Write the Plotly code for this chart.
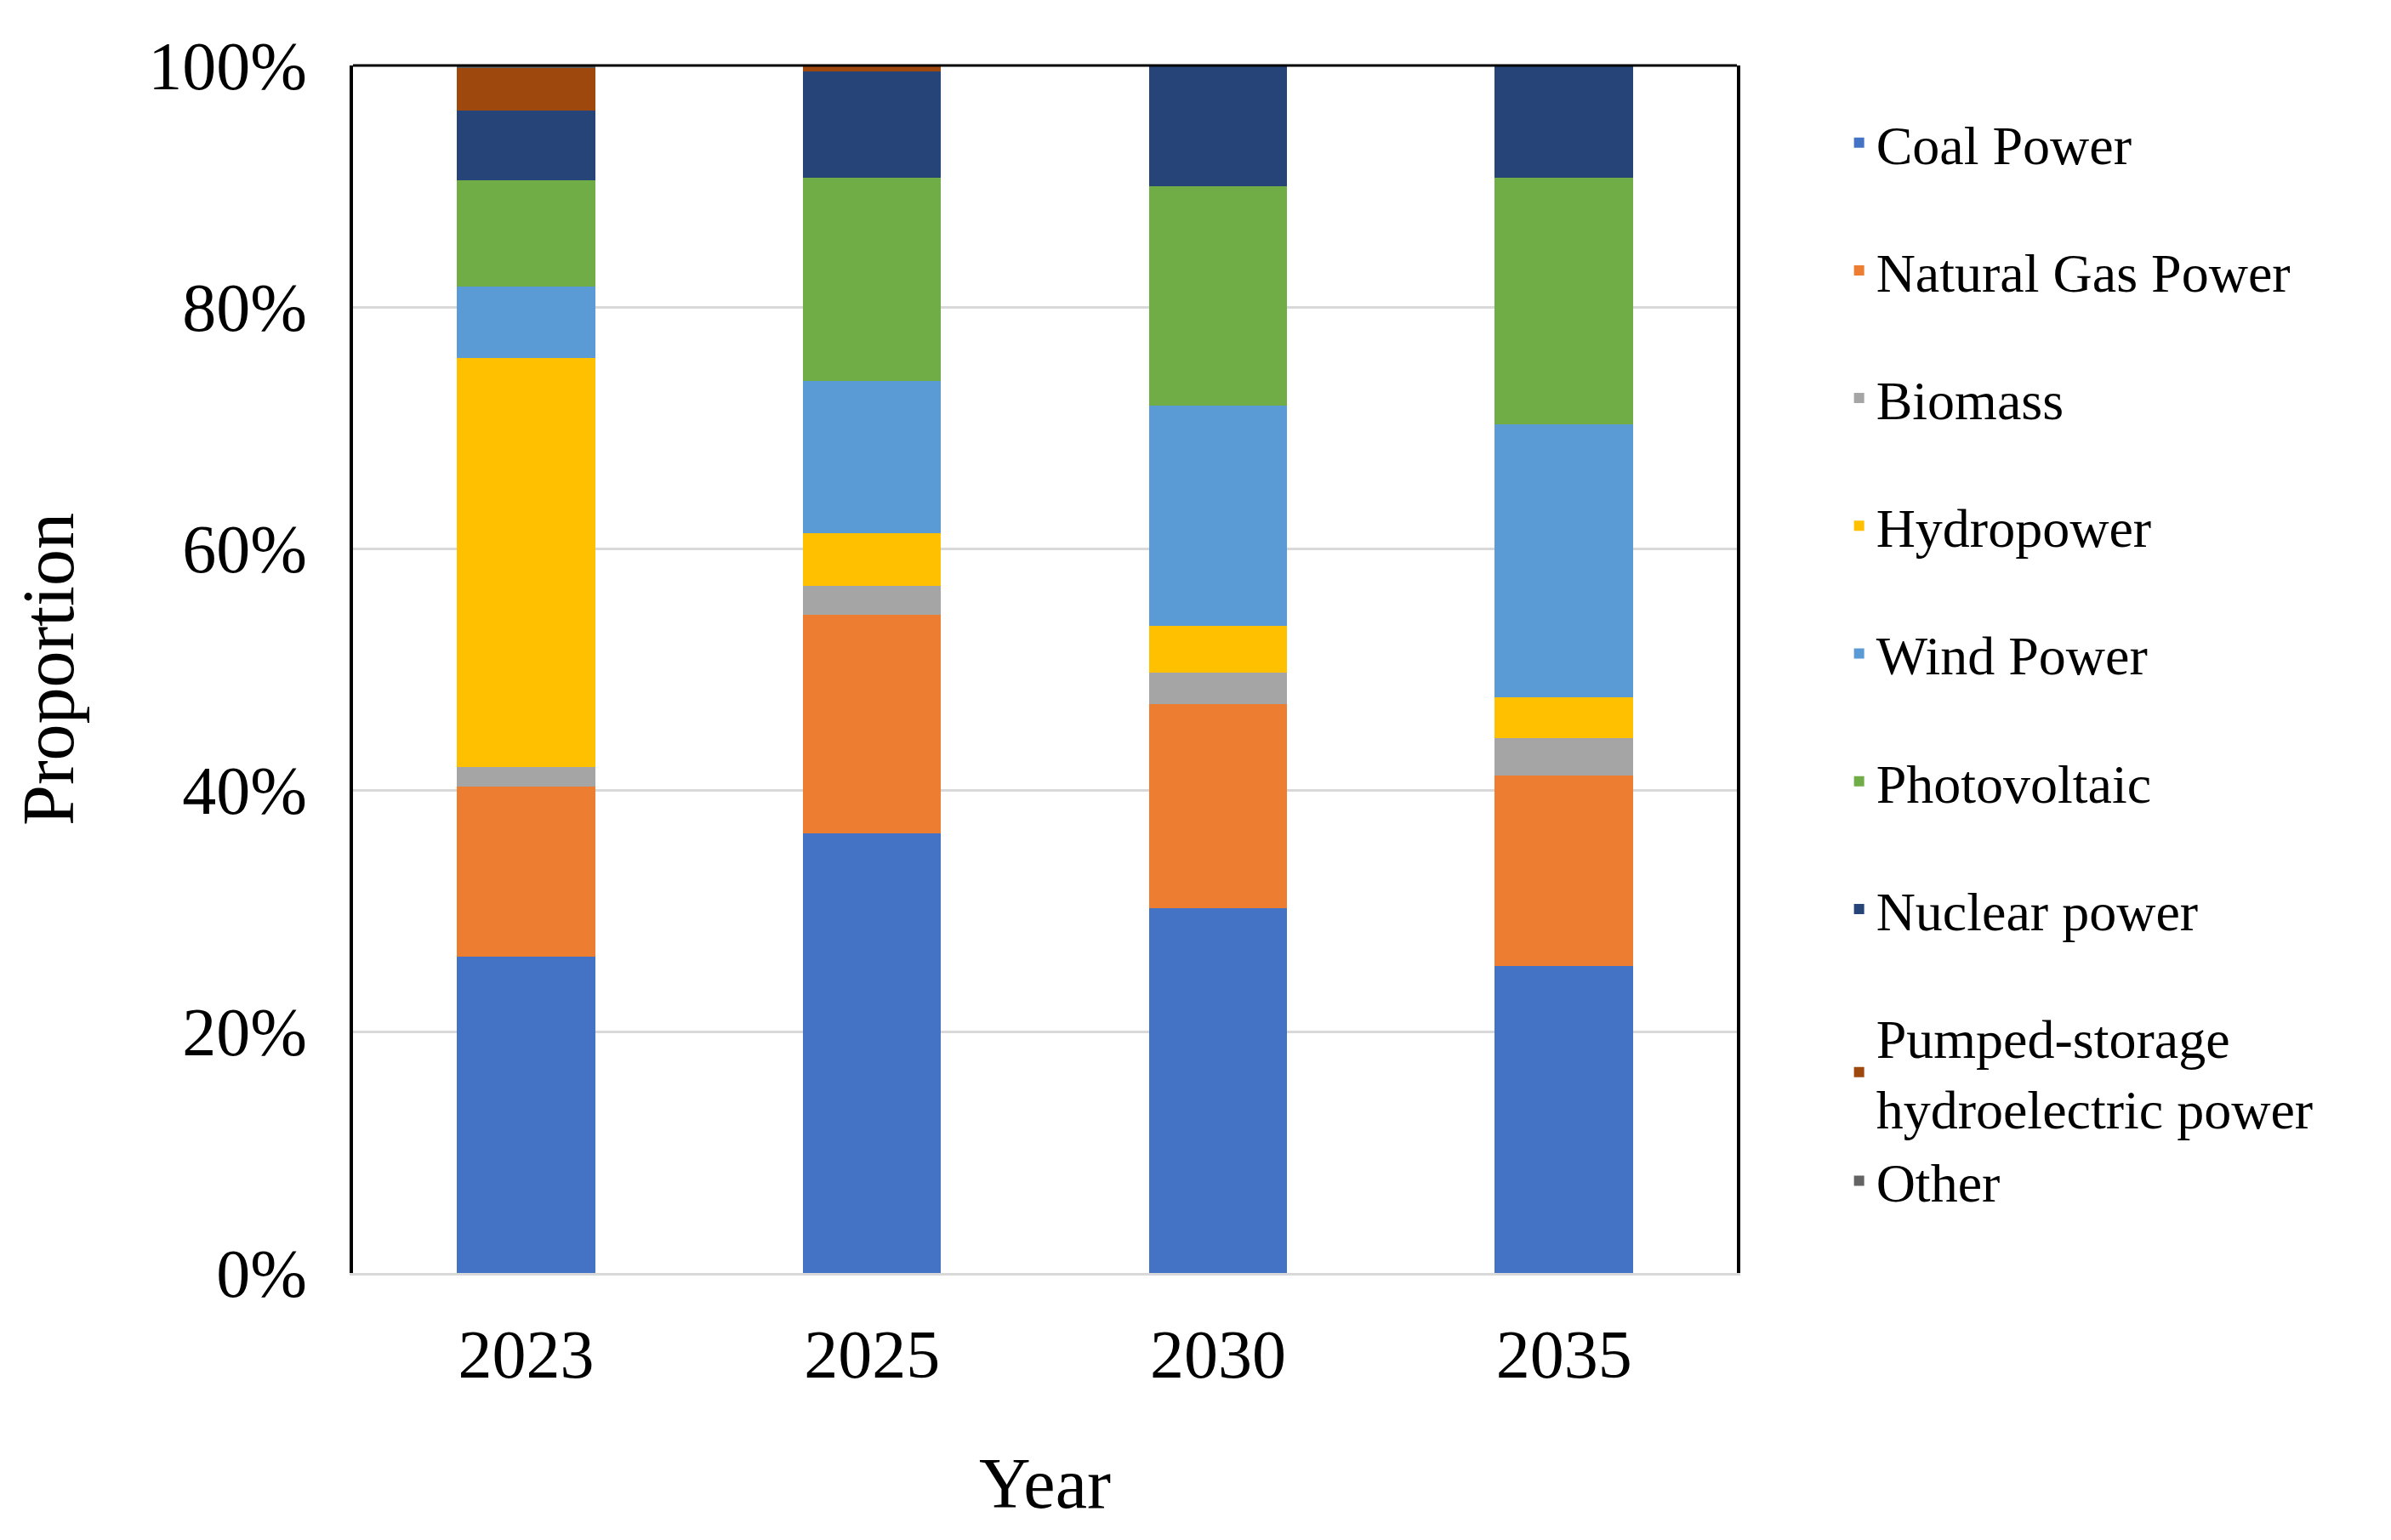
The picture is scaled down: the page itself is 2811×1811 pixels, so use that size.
import plotly.graph_objects as go

years = ["2023", "2025", "2030", "2035"]

coal = [26.2, 36.4, 30.2, 25.4]
natural_gas = [14.1, 18.1, 16.9, 15.8]
biomass = [1.6, 2.4, 2.6, 3.1]
hydropower = [33.9, 4.4, 3.9, 3.4]
wind = [5.9, 12.6, 18.2, 22.6]
photovoltaic = [8.8, 16.8, 18.2, 20.4]
nuclear = [5.8, 8.8, 10.0, 9.3]
pumped_storage = [3.5, 0.5, 0.0, 0.0]
other = [0.2, 0.0, 0.0, 0.0]

y_ticks = [0, 20, 40, 60, 80, 100]

series = [
    ("Coal Power", coal, "#4472C4", "g1"),
    ("Natural Gas Power", natural_gas, "#ED7D31", "g2"),
    ("Biomass", biomass, "#A5A5A5", "g3"),
    ("Hydropower", hydropower, "#FFC000", "g4"),
    ("Wind Power", wind, "#5B9BD5", "g5"),
    ("Photovoltaic", photovoltaic, "#70AD47", "g6"),
    ("Nuclear power", nuclear, "#264478", "g7"),
    ("Pumped-storage<br>hydroelectric power", pumped_storage, "#9E480E", "g8"),
    ("Other", other, "#636363", "g8"),
]

FONT = "Liberation Serif, Times New Roman, serif"

fig = go.Figure()
for name, vals, color, grp in series:
    fig.add_trace(go.Bar(
        name=name, x=years, y=vals,
        marker=dict(color=color, line=dict(width=0)),
        legendgroup=grp,
    ))

# page body has an 8px margin, so the figure is drawn 8px in from the top-left
OFF = 8
W, H = 2811 - OFF, 1811 - OFF
L, R, T, B = 415 - OFF, 2811 - 2042, 77 - OFF, 1811 - 1497

fig.update_layout(
    width=W, height=H,
    margin=dict(l=L, r=R, t=T, b=B, autoexpand=False),
    barmode="stack",
    bargap=0.6,
    plot_bgcolor="white",
    paper_bgcolor="white",
    font=dict(family=FONT, color="black", size=80),
    showlegend=True,
    legend=dict(
        x=1.076, xanchor="left",
        y=0.97, yanchor="top",
        traceorder="grouped",
        tracegroupgap=64,
        font=dict(family=FONT, size=64, color="black"),
        bgcolor="rgba(0,0,0,0)",
        itemclick=False, itemdoubleclick=False,
    ),
    shapes=[dict(type="line", xref="paper", yref="paper",
                 x0=0, x1=1, y0=1, y1=1,
                 line=dict(color="black", width=3))],
)

fig.update_xaxes(
    type="category",
    showline=True, linecolor="#d9d9d9", linewidth=3,
    showgrid=False, ticks="",
    tickfont=dict(family=FONT, size=80, color="black"),
    ticklabelstandoff=24,
    title=dict(text="Year", font=dict(family=FONT, size=84, color="black"), standoff=79),
)

fig.update_yaxes(
    range=[0, 100],
    tickvals=y_ticks,
    ticktext=[f"{v}%" for v in y_ticks],
    showline=True, linecolor="black", linewidth=4, mirror=True,
    showgrid=True, gridcolor="#d9d9d9", gridwidth=3,
    zeroline=False, ticks="",
    tickfont=dict(family=FONT, size=80, color="black"),
    ticklabelstandoff=34,
    title=dict(text="Proportion", font=dict(family=FONT, size=86, color="black"), standoff=60),
)

fig.write_html("out.html")
